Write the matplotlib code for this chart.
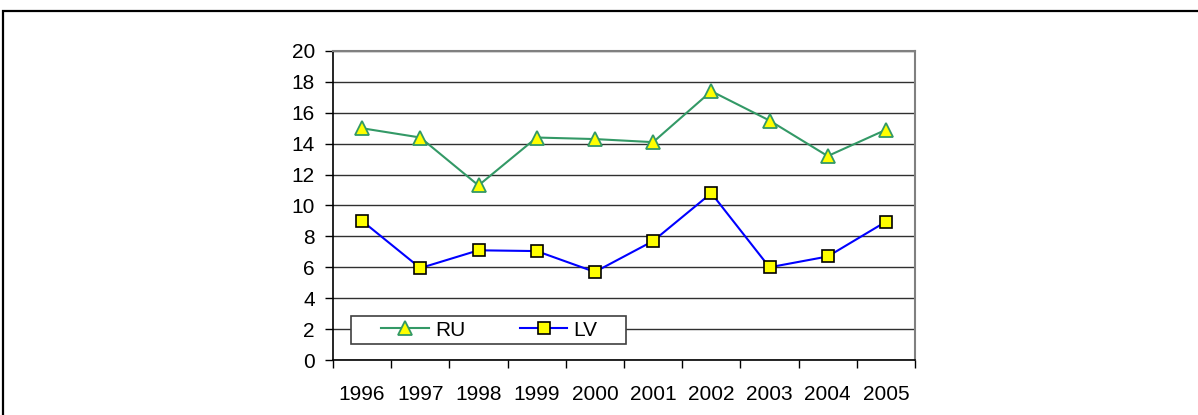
import matplotlib.pyplot as plt
from matplotlib.patches import Rectangle

years = ['1996', '1997', '1998', '1999', '2000', '2001', '2002', '2003', '2004', '2005']
ru = [15.0, 14.4, 11.3, 14.4, 14.3, 14.1, 17.4, 15.5, 13.2, 14.9]
lv = [9.0, 5.95, 7.1, 7.05, 5.7, 7.7, 10.8, 6.0, 6.7, 8.95]

plt.rcParams['font.family'] = ['Liberation Sans', 'DejaVu Sans']

W, H = 1198, 415
fig = plt.figure(figsize=(W / 100, H / 100), dpi=100)

# outer frame
fig.patches.append(Rectangle((3 / W, -0.1), 1.2, 1 - 11 / H + 0.1, transform=fig.transFigure,
                             fill=False, edgecolor='black', linewidth=1.6))

ax = fig.add_axes([333 / W, 1 - 360 / H, (915 - 333) / W, (360 - 51) / H])

x = range(len(years))
ax.plot(x, ru, color='#339966', linewidth=1.5, marker='^', markersize=10,
        markerfacecolor='#ffff00', markeredgecolor='#339966', markeredgewidth=1.3, label='RU')
ax.plot(x, lv, color='#0000ff', linewidth=1.5, marker='s', markersize=8,
        markerfacecolor='#ffff00', markeredgecolor='black', markeredgewidth=1.2, label='LV')

ax.set_xlim(-0.5, len(years) - 0.5)
ax.set_ylim(0, 20)
ax.set_yticks(range(0, 21, 2))
ax.set_xticks([i - 0.5 for i in range(len(years) + 1)])
ax.set_xticklabels([])
ax.set_xticks(list(x), minor=True)
ax.set_xticklabels(years, minor=True)
ax.tick_params(axis='x', which='major', length=6, width=1, color='black', direction='out')
ax.tick_params(axis='x', which='minor', length=0, pad=18, labelsize=15)
ax.tick_params(axis='y', length=6, width=1, labelsize=15, pad=7)

ax.yaxis.grid(True, color='#303030', linewidth=1)
ax.set_axisbelow(True)
for side in ['top', 'right']:
    ax.spines[side].set_color('#808080')
    ax.spines[side].set_linewidth(1.5)
for side in ['left', 'bottom']:
    ax.spines[side].set_color('black')
    ax.spines[side].set_linewidth(1.2)

# legend box, drawn separately so the padding inside can be set freely
def ax_x(px):
    return (px - 333) / 582

def ax_y(py):
    return (360 - py) / 309

ax.add_patch(Rectangle((ax_x(351), ax_y(344)), ax_x(626) - ax_x(351), ax_y(316) - ax_y(344),
                       transform=ax.transAxes, facecolor='white', edgecolor='#404040',
                       linewidth=1.2, zorder=5))
leg = ax.legend(loc='center left', bbox_to_anchor=(ax_x(381), ax_y(330)),
                ncol=2, fontsize=15, frameon=False, borderpad=0, borderaxespad=0,
                handlelength=2.3, handletextpad=0.3, columnspacing=2.6)
leg.set_zorder(6)

fig.savefig('out.png', dpi=100)
